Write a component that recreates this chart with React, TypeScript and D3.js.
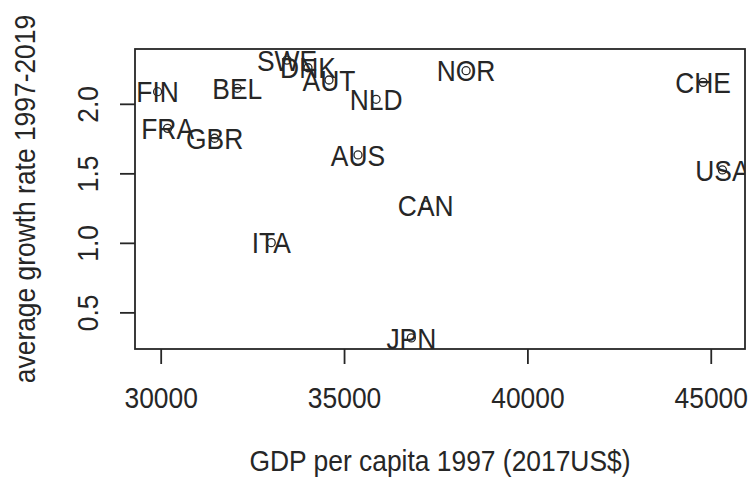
import { useRef, useEffect } from 'react';
import * as d3 from 'd3';

const COUNTRIES = ['FIN', 'BEL', 'SWE', 'DNK', 'AUT', 'NLD', 'FRA', 'GBR', 'AUS', 'NOR', 'CHE', 'USA', 'CAN', 'ITA', 'JPN'];
const GDP_1997 = [29902, 32074, 33430, 34003, 34576, 35859, 30175, 31457, 35367, 38314, 44777, 45304, 37214, 33001, 36821];
const GROWTH = [2.091, 2.115, 2.318, 2.263, 2.175, 2.036, 1.827, 1.756, 1.636, 2.242, 2.158, 1.528, 1.276, 1.005, 0.32];
const X_TICKS = [30000, 35000, 40000, 45000];
const Y_TICKS = [0.5, 1.0, 1.5, 2.0];

const W = 752;
const H = 479;
const M = { left: 135, right: 7, top: 49, bottom: 130 };
const FONT = '"Liberation Sans", Arial, Helvetica, sans-serif';
const FS = 30;
const SQUEEZE = 0.88; // the reference font is narrower than Arial
const INK = '#262626';

// R style axis range: data extent padded by 4% each side
function rRange(v: number[]): [number, number] {
  const [lo, hi] = d3.extent(v) as [number, number];
  const pad = (hi - lo) * 0.04;
  return [lo - pad, hi + pad];
}

export default function App() {
  const svgRef = useRef<SVGSVGElement>(null);

  useEffect(() => {
    const svg = d3.select(svgRef.current);
    svg.selectAll('*').remove();

    const x = d3.scaleLinear().domain(rRange(GDP_1997)).range([M.left, W - M.right]);
    const y = d3.scaleLinear().domain(rRange(GROWTH)).range([H - M.bottom, M.top]);
    const capMid = FS * 0.358;

    svg
      .append('defs')
      .append('clipPath')
      .attr('id', 'plot-clip')
      .append('rect')
      .attr('x', M.left)
      .attr('y', M.top)
      .attr('width', W - M.left - M.right)
      .attr('height', H - M.top - M.bottom);

    const g = svg.append('g').attr('font-family', FONT).attr('font-size', FS).attr('fill', INK);

    // points + labels, clipped to the plot region
    const plot = g.append('g').attr('clip-path', 'url(#plot-clip)');
    const rows = COUNTRIES.map((c, i) => ({ c, gdp: GDP_1997[i], gr: GROWTH[i] }));

    plot
      .selectAll('circle')
      .data(rows)
      .join('circle')
      .attr('cx', (d) => x(d.gdp))
      .attr('cy', (d) => y(d.gr))
      .attr('r', 4)
      .attr('fill', 'none')
      .attr('stroke', INK)
      .attr('stroke-width', 1.3);

    plot
      .selectAll('text')
      .data(rows)
      .join('text')
      .attr('text-anchor', 'middle')
      .attr('transform', (d) => `translate(${x(d.gdp)},${y(d.gr) + capMid}) scale(${SQUEEZE},1)`)
      .text((d) => d.c);

    // box
    g.append('rect')
      .attr('x', M.left)
      .attr('y', M.top)
      .attr('width', W - M.left - M.right)
      .attr('height', H - M.top - M.bottom)
      .attr('fill', 'none')
      .attr('stroke', INK)
      .attr('stroke-width', 1.8);

    const tickLen = 15;
    const base = H - M.bottom;

    // x axis
    g.selectAll('.xtick')
      .data(X_TICKS)
      .join('line')
      .attr('class', 'xtick')
      .attr('x1', (d) => x(d))
      .attr('x2', (d) => x(d))
      .attr('y1', base)
      .attr('y2', base + tickLen)
      .attr('stroke', INK)
      .attr('stroke-width', 1.8);

    g.selectAll('.xlab')
      .data(X_TICKS)
      .join('text')
      .attr('class', 'xlab')
      .attr('text-anchor', 'middle')
      .attr('transform', (d) => `translate(${x(d)},408) scale(${SQUEEZE},1)`)
      .text((d) => String(d));

    // y axis
    g.selectAll('.ytick')
      .data(Y_TICKS)
      .join('line')
      .attr('class', 'ytick')
      .attr('x1', M.left)
      .attr('x2', M.left - tickLen)
      .attr('y1', (d) => y(d))
      .attr('y2', (d) => y(d))
      .attr('stroke', INK)
      .attr('stroke-width', 1.8);

    g.selectAll('.ylab')
      .data(Y_TICKS)
      .join('text')
      .attr('class', 'ylab')
      .attr('text-anchor', 'middle')
      .attr('transform', (d) => `translate(98,${y(d)}) rotate(-90) scale(${SQUEEZE},1)`)
      .text((d) => d3.format('.1f')(d));

    // axis titles
    const midX = (M.left + W - M.right) / 2;
    const midY = (M.top + H - M.bottom) / 2;
    g.append('text')
      .attr('text-anchor', 'middle')
      .attr('transform', `translate(${midX},471) scale(${SQUEEZE},1)`)
      .text('GDP per capita 1997 (2017US$)');

    g.append('text')
      .attr('text-anchor', 'middle')
      .attr('transform', `translate(35,${midY}) rotate(-90) scale(${SQUEEZE},1)`)
      .text('average growth rate 1997-2019');
  }, []);

  return (
    <svg
      ref={svgRef}
      width={W}
      height={H}
      style={{ position: 'absolute', left: 0, top: 0, background: '#fff' }}
    />
  );
}
